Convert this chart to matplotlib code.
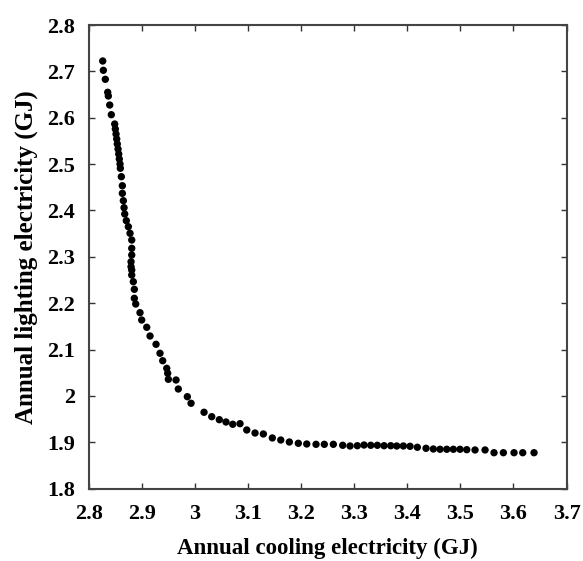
import matplotlib
matplotlib.use("Agg")
import matplotlib.pyplot as plt

cooling = [2.8258, 2.8270, 2.8307, 2.8352, 2.8364, 2.8390, 2.8420, 2.8484, 2.8496, 2.8509,
           2.8522, 2.8533, 2.8547, 2.8560, 2.8571, 2.8584, 2.8590, 2.8609, 2.8628, 2.8628,
           2.8647, 2.8660, 2.8673, 2.8703, 2.8741, 2.8773, 2.8805, 2.8805, 2.8805, 2.8792,
           2.8792, 2.8805, 2.8805, 2.8835, 2.8854, 2.8854, 2.8880, 2.8961, 2.8993, 2.9088,
           2.9150, 2.9263, 2.9338, 2.9389, 2.9465, 2.9483, 2.9495, 2.9640, 2.9683, 2.9853,
           2.9923, 3.0168, 3.0313, 3.0456, 3.0582, 3.0709, 3.0846, 3.0973, 3.1129, 3.1286,
           3.1455, 3.1614, 3.1776, 3.1945, 3.2104, 3.2279, 3.2435, 3.2605, 3.2782, 3.2920,
           3.3057, 3.3184, 3.3310, 3.3435, 3.3561, 3.3687, 3.3800, 3.3925, 3.4051, 3.4189,
           3.4352, 3.4490, 3.4616, 3.4743, 3.4867, 3.4993, 3.5120, 3.5276, 3.5465, 3.5634,
           3.5810, 3.6011, 3.6175, 3.6388]
lighting = [2.7224, 2.7023, 2.6829, 2.6549, 2.6469, 2.6275, 2.6066, 2.5865, 2.5757, 2.5649,
            2.5542, 2.5434, 2.5326, 2.5218, 2.5110, 2.5002, 2.4910, 2.4729, 2.4534, 2.4370,
            2.4211, 2.4060, 2.3924, 2.3780, 2.3650, 2.3508, 2.3363, 2.3184, 2.3040, 2.2895,
            2.2788, 2.2716, 2.2608, 2.2464, 2.2300, 2.2106, 2.1983, 2.1796, 2.1638, 2.1481,
            2.1293, 2.1114, 2.0920, 2.0760, 2.0596, 2.0489, 2.0359, 2.0344, 2.0150, 1.9984,
            1.9842, 1.9648, 1.9553, 1.9488, 1.9438, 1.9389, 1.9402, 1.9266, 1.9201, 1.9180,
            1.9094, 1.9050, 1.9007, 1.8979, 1.8964, 1.8957, 1.8957, 1.8957, 1.8936, 1.8921,
            1.8927, 1.8942, 1.8936, 1.8936, 1.8927, 1.8927, 1.8921, 1.8921, 1.8914, 1.8893,
            1.8871, 1.8856, 1.8850, 1.8850, 1.8850, 1.8850, 1.8841, 1.8835, 1.8835, 1.8776,
            1.8776, 1.8776, 1.8776, 1.8776]

xticks = [2.8, 2.9, 3.0, 3.1, 3.2, 3.3, 3.4, 3.5, 3.6, 3.7]
xticklabels = ["2.8", "2.9", "3", "3.1", "3.2", "3.3", "3.4", "3.5", "3.6", "3.7"]
yticks = [1.8, 1.9, 2.0, 2.1, 2.2, 2.3, 2.4, 2.5, 2.6, 2.7, 2.8]
yticklabels = ["1.8", "1.9", "2", "2.1", "2.2", "2.3", "2.4", "2.5", "2.6", "2.7", "2.8"]

plt.rcParams['font.family'] = ['Liberation Serif', 'DejaVu Serif']
plt.rcParams['font.weight'] = 'bold'

fig = plt.figure(figsize=(5.83, 5.61), dpi=100)
ax = fig.add_axes([0.1527, 0.1289, 0.819, 0.8265])

ax.scatter(cooling, lighting, s=28, color='black', edgecolors='none', zorder=3)

ax.set_xlim(2.8, 3.7)
ax.set_ylim(1.8, 2.8)
ax.set_xticks(xticks)
ax.set_xticklabels(xticklabels)
ax.set_yticks(yticks)
ax.set_yticklabels(yticklabels)
ax.tick_params(direction='in', length=4, width=1, top=True, right=True,
               labelsize=16, colors='#333333', labelcolor='black')
ax.tick_params(axis='x', pad=11)
ax.tick_params(axis='y', pad=10)
for s in ax.spines.values():
    s.set_linewidth(1.5)
    s.set_color('#444444')

ax.set_xlabel("Annual cooling electricity (GJ)", fontsize=16.5, fontweight='bold', labelpad=10)
ax.set_ylabel("Annual lighting electricity (GJ)", fontsize=18, fontweight='bold', labelpad=7)

fig.savefig("out.png", dpi=100, facecolor='white')
